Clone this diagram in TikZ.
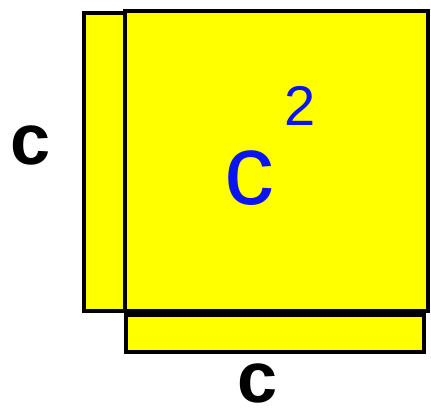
\documentclass[tikz,border=0pt]{standalone}
\usepackage{fontspec}
\setmainfont{Liberation Sans}
\usepackage{tikz}
\usetikzlibrary{positioning}
\definecolor{Fill}{HTML}{FFFF00}
\definecolor{Pen}{HTML}{0A14F0}
\tikzset{
  tile/.style={draw=black,fill=Fill,line width=4.5pt},
  side/.style={font=\fontsize{72}{72}\selectfont\bfseries,inner sep=0pt,text=black},
  hand/.style={font=\fontsize{100}{100}\selectfont,inner sep=0pt,text=Pen},
  handsup/.style={hand,font=\fontsize{56}{56}\selectfont}
}
\begin{document}
\begin{tikzpicture}[x=1pt,y=-1pt]
  \useasboundingbox (0,0) rectangle (431,416);
  % strips and square
  \draw[tile] (84,13) rectangle (125,311);
  \draw[tile] (125,11) rectangle (428,311);
  \draw[tile] (126,315) rectangle (424,352);
  % side labels
  \node[side] (cleft) at (31,145) {c};
  \node[side] (cbot) at (258,383) {c};
  % area
  \node[hand] (csq) at (249,178) {c};
  \node[handsup] (two) at (300,106) {2};
\end{tikzpicture}
\end{document}
